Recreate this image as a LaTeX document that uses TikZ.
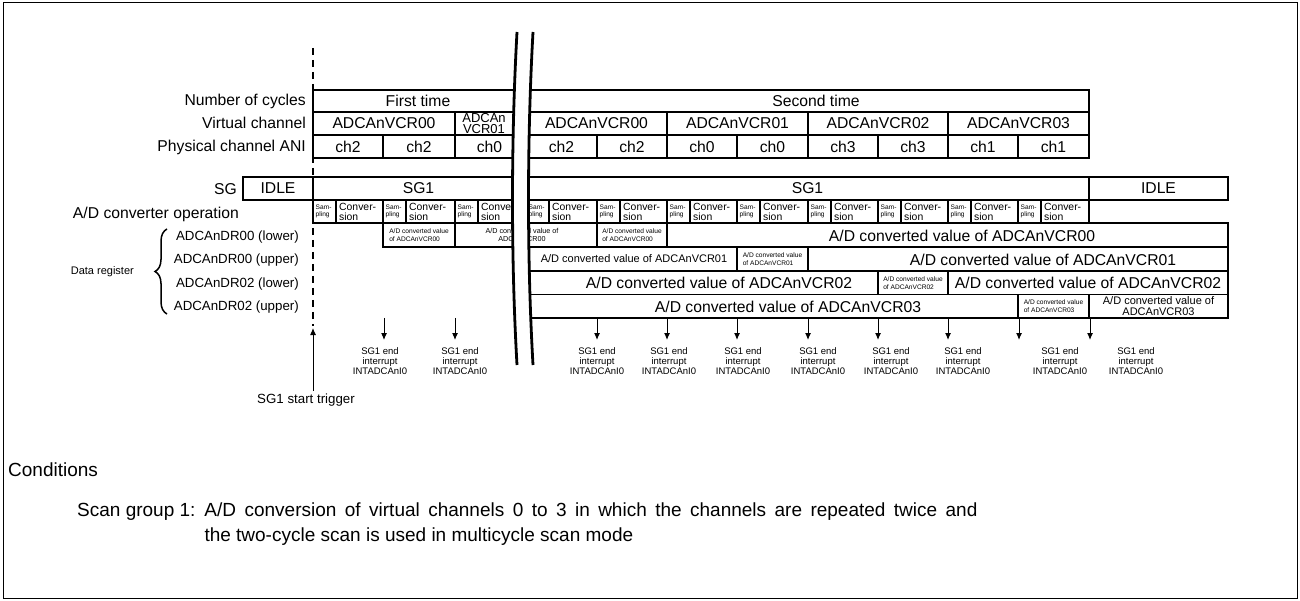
\documentclass[tikz,border=0pt]{standalone}
\usepackage{fontspec}
\setmainfont{Liberation Sans}
\usetikzlibrary{arrows.meta,decorations.pathreplacing}

\begin{document}
\begin{tikzpicture}[x=1pt, y=-1pt, >={Latex[length=7pt,width=6pt]},
  cellbox/.style={draw, line width=1.9pt},
  txt/.style={inner sep=0pt, font=\fontsize{15.7}{17}\selectfont},
  lbl/.style={txt, anchor=east},
  reg/.style={inner sep=0pt, anchor=east, font=\fontsize{13.3}{15}\selectfont},
  midtxt/.style={inner sep=0pt, align=center, font=\fontsize{11}{11.5}\selectfont},
  tinytxt/.style={inner sep=0pt, align=left, font=\fontsize{6.6}{7.8}\selectfont},
  samp/.style={inner sep=0pt, anchor=west, align=left, font=\fontsize{6.6}{7.4}\selectfont},
  conv/.style={inner sep=0pt, anchor=west, align=left, font=\fontsize{10.4}{10.5}\selectfont},
  irq/.style={inner sep=0pt, anchor=north, align=center, font=\fontsize{9.5}{10.2}\selectfont},
  brk/.style={line width=2.8pt}]
\useasboundingbox (0,0) rectangle (1300,601);
\draw[line width=1pt] (3,3) rectangle (1297,598);

% row labels
\node[lbl] (ncyc) at (306,101) {Number of cycles};
\node[lbl] (vch) at (306,123) {Virtual channel};
\node[lbl] (pch) at (306,147) {Physical channel ANI};
\node[lbl] (sg) at (237,189) {SG};
\node[lbl] (adop) at (239,214) {A/D converter operation};
\node[reg] (dr1) at (299,237) {ADCAnDR00 (lower)};
\node[reg] (dr2) at (299,260) {ADCAnDR00 (upper)};
\node[reg] (dr3) at (299,284) {ADCAnDR02 (lower)};
\node[reg] (dr4) at (299,307) {ADCAnDR02 (upper)};
\draw[line width=1.5pt, decorate, decoration={brace, amplitude=12pt}] (167,314) -- (167,229);
\node[inner sep=0pt, anchor=east, font=\fontsize{11}{13}\selectfont] (dreg) at (134,272) {Data register};

% start of scan
\draw[line width=2pt, dash pattern=on 7pt off 5pt] (313,48) -- (313,326);

% number of cycles / virtual channel / physical channel
\draw[cellbox] (313,90) rectangle (524,112);
\node[txt] (first) at (418,101) {First time};
\draw[cellbox] (526,90) rectangle (1089,112);
\node[txt] (second) at (816,101) {Second time};
\foreach \a/\b/\c [count=\i] in {313/455/00, 526/667/00, 667/808/01, 808/948/02, 948/1089/03}
  \draw[cellbox] (\a,112) rectangle (\b,135) node[txt, midway] (vc\i) {ADCAnVCR\c};
\draw[cellbox] (455,112) rectangle (524,135);
\node[inner sep=0pt, align=center, font=\fontsize{13}{11.5}\selectfont] (vcsplit) at (484,123.5) {ADCAn\\VCR01};
\foreach \a/\b/\c [count=\i] in {313/383/ch2, 383/455/ch2, 455/524/ch0, 526/597/ch2, 597/667/ch2,
    667/737/ch0, 737/808/ch0, 808/878/ch3, 878/948/ch3, 948/1018/ch1, 1018/1089/ch1}
  \draw[cellbox] (\a,135) rectangle (\b,158) node[txt, midway] (ani\i) {\c};

% scan group
\draw[cellbox] (243,177) rectangle (313,200) node[txt, midway] (idle1) {IDLE};
\draw[cellbox] (313,177) rectangle (524,200) node[txt, midway] (sga) {SG1};
\draw[cellbox] (526,177) rectangle (1089,200) node[txt, midway] (sgb) {SG1};
\draw[cellbox] (1089,177) rectangle (1228,200) node[txt, midway] (idle2) {IDLE};

% sampling / conversion
\foreach \a/\b [count=\i] in {313/383, 383/455, 455/524, 526/597, 597/667, 667/737,
    737/808, 808/878, 878/948, 948/1018, 1018/1089} {
  \draw[cellbox] (\a,200) rectangle (\a+23,223);
  \draw[cellbox] (\a+23,200) rectangle (\b,223);
  \node[samp] (smp\i) at (\a+2.5,211.5) {Sam-\\pling};
  \node[conv] (cnv\i) at (\a+26,212) {Conver-\\sion};
}

% ADCAnDR00 (lower)
\draw[cellbox] (383,223) rectangle (455,247) node[tinytxt, midway] (d1a) {A/D converted value\\of ADCAnVCR00};
\draw[cellbox] (455,223) rectangle (597,247);
\node[inner sep=0pt, align=center, font=\fontsize{7.2}{8.6}\selectfont] (d1b) at (522,235) {A/D converted value of\\ADCAnVCR00};
\draw[cellbox] (597,223) rectangle (667,247) node[tinytxt, midway] (d1c) {A/D converted value\\of ADCAnVCR00};
\draw[cellbox] (667,223) rectangle (1228,247);
\node[txt] (d1d) at (962,235.5) {A/D converted value of ADCAnVCR00};
% ADCAnDR00 (upper)
\draw[cellbox] (526,247) rectangle (737,271);
\node[midtxt] (d2a) at (634,259) {A/D converted value of ADCAnVCR01};
\draw[cellbox] (737,247) rectangle (808,271) node[tinytxt, midway] (d2b) {A/D converted value\\of ADCAnVCR01};
\draw[cellbox] (808,247) rectangle (1228,271);
\node[txt] (d2c) at (1043,259.5) {A/D converted value of ADCAnVCR01};
% ADCAnDR02 (lower)
\draw[cellbox] (526,271) rectangle (878,294.5);
\node[txt] (d3a) at (719,283) {A/D converted value of ADCAnVCR02};
\draw[cellbox] (878,271) rectangle (948,294.5) node[tinytxt, midway] (d3b) {A/D converted value\\of ADCAnVCR02};
\draw[cellbox] (948,271) rectangle (1228,294.5) node[txt, midway] (d3c) {A/D converted value of ADCAnVCR02};
% ADCAnDR02 (upper)
\draw[cellbox] (526,294.5) rectangle (1018,318);
\node[txt] (d4a) at (788,306.5) {A/D converted value of ADCAnVCR03};
\draw[cellbox] (1018,294.5) rectangle (1089,318) node[tinytxt, midway] (d4b) {A/D converted value\\of ADCAnVCR03};
\draw[cellbox] (1089,294.5) rectangle (1228,318) node[midtxt, midway] (d4c) {A/D converted value of\\ADCAnVCR03};

% time break
\fill[white] (517,32) .. controls (511,140) and (511,260) .. (517,365)
  -- (533,365) .. controls (527,260) and (527,140) .. (533,32) -- cycle;
\draw[brk] (517,32) .. controls (511,140) and (511,260) .. (517,365);
\draw[brk] (533,32) .. controls (527,140) and (527,260) .. (533,365);

% trigger and interrupts
\coordinate (trgtop) at (313,328);
\node[inner sep=0pt, font=\fontsize{13.3}{15}\selectfont] (trg) at (306,400) {SG1 start trigger};
\draw[->, line width=1pt] (trg.north -| trgtop) ++(0,-3) -- (trgtop);
\foreach \ax/\lx [count=\i] in {384/380, 455/460, 597/597, 667/669, 737/743, 808/818,
    878/891, 948/963, 1019/1060, 1090/1136} {
  \node[irq] (irq\i) at (\lx,347.5) {SG1 end\\interrupt\\INTADCAnI0};
  \coordinate (src\i) at (\ax,318);
  \draw[->, line width=1pt] (src\i) -- ++(0,22);
}

% conditions
\node[anchor=west, inner sep=0pt, font=\fontsize{19}{22}\selectfont] (cond) at (8,470) {Conditions};
\node[anchor=north west, inner sep=0pt, font=\fontsize{19}{25}\selectfont] (scan) at (77,499)
  {\begin{tabular}{@{}l@{\hspace{9pt}}l@{}}Scan group 1:&
   \parbox[t]{773pt}{A/D conversion of virtual channels 0 to 3 in which the channels are repeated twice and\linebreak
   the two-cycle scan is used in multicycle scan mode}\end{tabular}};
\end{tikzpicture}
\end{document}
